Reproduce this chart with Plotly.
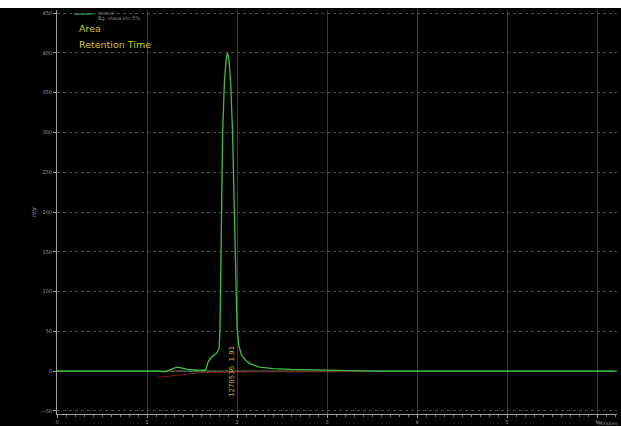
import plotly.graph_objects as go

# Chromatogram trace (minutes, mV)
time_min = [0.0, 1.10, 1.20, 1.28, 1.33, 1.38, 1.45, 1.55, 1.65, 1.68, 1.72, 1.77,
            1.80, 1.81, 1.83, 1.84, 1.86, 1.88, 1.895, 1.91, 1.93, 1.95, 1.97,
            1.99, 2.00, 2.02, 2.05, 2.10, 2.15, 2.25, 2.40, 2.60, 3.00, 3.30, 3.50, 6.20]
signal_mv = [0, 0, -1, 3, 5, 4, 2, 1, 1, 12, 18, 22,
             28, 50, 200, 300, 365, 393, 400, 392, 360, 300, 200,
             95, 55, 32, 20, 13, 9, 5, 3, 2, 1, 1, 0, 0]

# Integration baseline (dark red) near zero
base_t = [1.12, 1.6, 2.2, 3.0, 3.5]
base_v = [-8, -2, -1, -1, 0]

# small blue marker segment at end of integration
blue_t = [3.45, 3.6]
blue_v = [0, 0]

x_ticks = [0, 1, 2, 3, 4, 5, 6]
y_ticks = [-50, 0, 50, 100, 150, 200, 250, 300, 350, 400, 450]

peak_rt = 1.91
peak_label = "1270536  1.91"

fig = go.Figure()
fig.add_trace(go.Scatter(x=[0, 6.22], y=[0, 0], mode="lines",
                         line=dict(color="#5f8a5f", width=1), hoverinfo="skip"))
fig.add_trace(go.Scatter(x=base_t, y=base_v, mode="lines",
                         line=dict(color="#7a1a1a", width=1), hoverinfo="skip"))
fig.add_trace(go.Scatter(x=blue_t, y=blue_v, mode="lines",
                         line=dict(color="#3a3aa0", width=1.5), hoverinfo="skip"))
fig.add_trace(go.Scatter(x=time_min, y=signal_mv, mode="lines",
                         line=dict(color="#3fbf3f", width=1.3)))

fig.add_annotation(x=peak_rt, y=0, xref="x", yref="y", text=peak_label,
                   textangle=-90, showarrow=False, xshift=3,
                   font=dict(family="DejaVu Sans", size=7, color="#c8b830"))

# legend-like texts
fig.add_shape(type="line", xref="paper", yref="paper", x0=0.03, x1=0.065,
              y0=0.99, y1=0.99, line=dict(color="#3fbf3f", width=1))
fig.add_annotation(xref="paper", yref="paper", x=0.07, y=1.004, text="Vensis",
                   showarrow=False, xanchor="left", yanchor="top",
                   font=dict(family="DejaVu Sans", size=5, color="#8a8a8a"))
fig.add_annotation(xref="paper", yref="paper", x=0.07, y=0.992, text="Bg. vlava.etc 5%",
                   showarrow=False, xanchor="left", yanchor="top",
                   font=dict(family="DejaVu Sans", size=5, color="#8a8a8a"))
fig.add_annotation(xref="paper", yref="paper", x=0.035, y=0.973, text="Area",
                   showarrow=False, xanchor="left", yanchor="top",
                   font=dict(family="DejaVu Sans", size=9.5, color="#c8c830"))
fig.add_annotation(xref="paper", yref="paper", x=0.035, y=0.933, text="Retention Time",
                   showarrow=False, xanchor="left", yanchor="top",
                   font=dict(family="DejaVu Sans", size=9.5, color="#c8c830"))
fig.add_annotation(xref="paper", yref="paper", x=1.0, y=-0.022, text="Minutes",
                   showarrow=False, xanchor="right", yanchor="middle", xshift=3,
                   font=dict(family="DejaVu Sans", size=5, color="#9a9a9a"))

fig.update_layout(
    width=621, height=418,
    margin=dict(l=57, r=4, t=2, b=12),
    paper_bgcolor="black", plot_bgcolor="black",
    showlegend=False,
    font=dict(family="DejaVu Sans", size=5, color="#9a9a9a"),
    xaxis=dict(range=[0, 6.22], tickvals=x_ticks, showgrid=True,
               gridcolor="#3a3a3a", gridwidth=1, zeroline=False,
               showline=True, linecolor="#a0a0a0", linewidth=1,
               ticks="outside", ticklen=3, tickcolor="#a0a0a0",
               minor=dict(dtick=0.1, ticks="outside", ticklen=2, tickcolor="#808080", showgrid=False),
               tickfont=dict(size=5, color="#9a9a9a")),
    yaxis=dict(range=[-54, 454], tickvals=y_ticks, showgrid=True,
               gridcolor="#4a4a4a", gridwidth=1, griddash="dot", zeroline=False,
               showline=True, linecolor="#a0a0a0", linewidth=1,
               ticks="outside", ticklen=3, tickcolor="#a0a0a0",
               title=dict(text="mV", font=dict(size=6, color="#9a9a9a"), standoff=4),
               tickfont=dict(size=5, color="#9a9a9a")),
)

fig.write_html(
    "out.html",
    post_script=("document.documentElement.style.background='white';"
                 "document.body.style.margin='8px 0 0 0';"
                 "document.body.style.background='black';"),
)
